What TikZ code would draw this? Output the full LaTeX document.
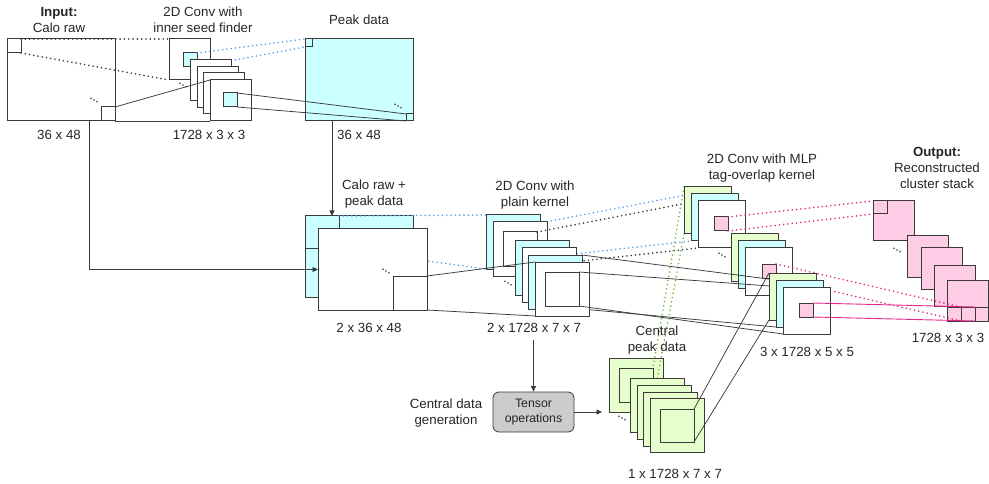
\documentclass[tikz,border=0pt]{standalone}
\usepackage{fontspec}
\setmainfont{Liberation Sans}
\usetikzlibrary{arrows.meta,calc}

\definecolor{edge}{HTML}{3A3A3A}
\definecolor{cyanF}{HTML}{CCFFFF}
\definecolor{greenF}{HTML}{E6FFCC}
\definecolor{pinkF}{HTML}{FFCCE6}
\definecolor{grayF}{HTML}{CCCCCC}
\definecolor{blueDot}{RGB}{90,160,240}
\definecolor{greenDot}{RGB}{115,180,60}
\definecolor{pinkLn}{RGB}{225,40,135}

% geometry of a box: name, left, top, width, height (y grows downwards)
\newcommand\bx[5]{\path (#2,#3) node[geom, minimum width=#4pt, minimum height=#5pt] (#1) {};}
% paint a box defined with \bx
\newcommand\paint[2]{\draw[#1] (#2.north west) rectangle (#2.south east);}
% three small dots marking an elided stack
\newcommand\tridots[2]{\foreach \k in {-1,0,1}{\fill[edge] ({#1+3.0*\k},{#2+1.8*\k}) circle (0.9pt);}}

\begin{document}
\begin{tikzpicture}[x=1pt,y=-1pt,
  geom/.style={rectangle, inner sep=0pt, outer sep=0pt, anchor=north west},
  sqw/.style={draw=edge, line width=1pt, fill=white},
  sqc/.style={draw=edge, line width=1pt, fill=cyanF},
  sqg/.style={draw=edge, line width=1pt, fill=greenF},
  sqp/.style={draw=edge, line width=1pt, fill=pinkF},
  ln/.style={draw=edge, line width=0.75pt},
  arr/.style={draw=edge, line width=0.75pt, -{Triangle[length=5.5pt,width=5pt]}},
  dotk/.style={draw=edge, line width=1.8pt, line cap=round, dash pattern=on 0.01pt off 4.3pt},
  dotb/.style={dotk, draw=blueDot},
  dotg/.style={dotk, draw=greenDot},
  dotp/.style={dotk, draw=pinkLn},
  lnp/.style={draw=pinkLn, line width=0.9pt},
  lbl/.style={align=center, inner sep=0pt, font=\fontsize{13.3}{16}\selectfont, text=black!85},
  tensorbox/.style={draw=edge, line width=0.8pt, fill=grayF, rounded corners=6pt,
    minimum width=81pt, minimum height=40pt, align=center, inner sep=0pt,
    font=\fontsize{12.3}{15.5}\selectfont, text=black!85}
]
\useasboundingbox (0,0) rectangle (989,484);

% ---------- geometry ----------
\bx{in}{7}{39}{108}{82}
\bx{inTL}{7}{39}{14}{14}
\bx{inBR}{101}{107}{14}{14}
\bx{ca}{169}{39}{41}{41}
\bx{cap}{183}{53}{14}{14}
\bx{cb}{190}{60}{41}{41}
\bx{cc}{197}{67}{41}{41}
\bx{cd}{203}{73}{41}{41}
\bx{ce}{210}{80}{41}{41}
\bx{cep}{223}{93}{14}{14}
\bx{pk}{305}{39}{108}{82}
\bx{pkTL}{305}{39}{7}{8}
\bx{pkBR}{406}{114}{7}{7}
\bx{bk}{305}{216}{108}{81}
\bx{bkTL}{305}{216}{34}{33}
\bx{fr}{318}{229}{109}{81}
\bx{frBR}{393}{276}{34}{34}
\bx{pa}{486}{215}{54}{54}
\bx{pap}{496}{225}{34}{34}
\bx{pb}{493}{222}{54}{54}
\bx{pbp}{503}{232}{34}{34}
\bx{pc}{515}{241}{54}{54}
\bx{pd}{522}{248}{54}{54}
\bx{pe}{528}{255}{54}{54}
\bx{pf}{535}{262}{54}{54}
\bx{pfp}{545}{272}{34}{34}
\bx{ga}{609}{358}{54}{54}
\bx{gap}{619}{368}{34}{34}
\bx{gb}{630}{378}{54}{54}
\bx{gc}{637}{385}{54}{54}
\bx{gd}{643}{392}{54}{54}
\bx{ge}{650}{398}{54}{54}
\bx{gep}{660}{409}{34}{33}
\bx{mAg}{684}{187}{47}{47}
\bx{mAc}{691}{194}{47}{47}
\bx{mAw}{698}{201}{47}{47}
\bx{mAp}{714}{217}{14}{14}
\bx{mBg}{731}{234}{47}{47}
\bx{mBc}{738}{241}{47}{47}
\bx{mBw}{745}{248}{47}{47}
\bx{mBp}{762}{264}{14}{14}
\bx{mCg}{769}{273}{47}{47}
\bx{mCc}{776}{280}{47}{47}
\bx{mCw}{783}{287}{47}{47}
\bx{mCp}{799}{303}{14}{14}
\bx{oa}{873}{201}{41}{40}
\bx{oap}{873}{201}{14}{13}
\bx{ob}{907}{236}{41}{41}
\bx{oc}{921}{248}{41}{41}
\bx{od}{934}{265}{41}{41}
\bx{oe}{947}{280}{41}{41}
\bx{oeA}{947}{307}{14}{14}
\bx{oeB}{961}{307}{14}{14}
\bx{oeC}{975}{307}{13}{14}

\coordinate (inTap) at (89,121);
\coordinate (pkTap) at (332,121);
\coordinate (plTap) at (533.5,340);
\coordinate (gIn) at (602,412);

% ---------- output stack ----------
\paint{sqp}{oa}\paint{sqp}{oap}
\paint{sqp}{ob}\paint{sqp}{oc}\paint{sqp}{od}\paint{sqp}{oe}
\paint{sqp}{oeA}\paint{sqp}{oeB}\paint{sqp}{oeC}
\tridots{897}{250}

% ---------- input and seed finder ----------
\paint{sqw}{in}\paint{sqw}{inTL}\paint{sqw}{inBR}
\tridots{94}{100}
\draw[dotk] (inTL.north east) -- (ca.north west);
\draw[dotk] (inTL.south east) -- (ca.south west);
\paint{sqw}{ca}\paint{sqc}{cap}
\draw[dotb] (cap.north east) -- (pkTL.north west);
\draw[dotb] (cap.south east) -- (pkTL.south west);
\paint{sqw}{cb}\paint{sqw}{cc}\paint{sqw}{cd}
\tridots{183}{85}
\draw[ln] (inBR.north east) -- (ce.north west);
\draw[ln] (inBR.south east) -- (ce.south west);
\paint{sqw}{ce}\paint{sqc}{cep}

% ---------- peak data ----------
\paint{sqc}{pk}\paint{sqc}{pkTL}\paint{sqc}{pkBR}
\tridots{398}{106}
\draw[ln] (cep.north east) -- (pkBR.north west);
\draw[ln] (cep.south east) -- (pkBR.south west);

% ---------- calo raw + peak data ----------
\paint{sqc}{bk}\paint{sqc}{bkTL}
\draw[dotb] (bkTL.north east) -- (pa.north west);
\draw[dotb] (bkTL.south east) -- (pa.south west);
\paint{sqw}{fr}\paint{sqw}{frBR}
\tridots{386}{271}
\draw[arr] (inTap) |- (fr.west);
\draw[arr] (pkTap) -- (pkTap |- bk.north);

% ---------- plain kernel convolution ----------
\paint{sqc}{pa}\paint{sqc}{pap}
\draw[dotb] (pap.north east) -- (mAc.north west);
\draw[dotb] (pap.south east) -- (mAc.south west);
\paint{sqw}{pb}\paint{sqw}{pbp}
\draw[dotk] (pbp.north east) -- (mAw.north west);
\draw[dotk] (pbp.south east) -- (mAw.south west);
\tridots{508}{283}
\paint{sqc}{pc}\paint{sqw}{pd}\paint{sqc}{pe}
\draw[ln] (pe.south east) -- (mCc.south west);
\draw[ln] (frBR.north east) -- (pf.north west);
\draw[ln] (frBR.south east) -- (pf.south west);
\paint{sqw}{pf}\paint{sqw}{pfp}
\draw[ln] (pfp.south east) -- (mCw.south west);

% ---------- central data generation ----------
\node[tensorbox] (tens) at (533.5,412) {Tensor\\operations};
\draw[arr] (plTap) -- (tens.north);
\draw[arr] (tens.east) -- (gIn);

\paint{sqg}{ga}\paint{sqg}{gap}
\draw[dotg] (mAg.north west) -- (gap.north east);
\draw[dotg] (mAg.south west) -- (gap.south east);
\paint{sqg}{gb}\paint{sqg}{gc}\paint{sqg}{gd}\paint{sqg}{ge}\paint{sqg}{gep}
\tridots{622}{418}

% ---------- MLP tag-overlap convolution ----------
\paint{sqg}{mAg}\paint{sqc}{mAc}\paint{sqw}{mAw}\paint{sqp}{mAp}
\tridots{722}{255}
\draw[dotp] (mAp.north east) -- (oap.north west);
\draw[dotp] (mAp.south east) -- (oap.south west);
\paint{sqg}{mBg}\paint{sqc}{mBc}\paint{sqw}{mBw}\paint{sqp}{mBp}
\draw[dotp] (mBp.north east) -- (oeB.north west);
\draw[dotp] (mBp.south east) -- (oeB.south west);
\draw[ln] (pe.north east) -- (mCc.north west);
\draw[ln] (pfp.north east) -- (mCw.north west);
\draw[ln] (gep.north east) -- (mCg.north west);
\draw[ln] (gep.south east) -- (mCg.south west);
\paint{sqg}{mCg}\paint{sqc}{mCc}\paint{sqw}{mCw}\paint{sqp}{mCp}
\draw[lnp] (mCp.north east) -- (oeC.north west);
\draw[lnp] (mCp.south east) -- (oeC.south west);

% ---------- labels ----------
\node[lbl] (lIn) at (59,20) {\textbf{Input:}\\Calo raw};
\node[lbl] (lConv) at (203,20) {2D Conv with\\inner seed finder};
\node[lbl] (lPeak) at (359,20) {Peak data};
\node[lbl] (dIn) at (59,135) {36 x 48};
\node[lbl] (dConv) at (209,135) {1728 x 3 x 3};
\node[lbl] (dPeak) at (359,135) {36 x 48};
\node[lbl] (lComb) at (374,194) {Calo raw +\\peak data};
\node[lbl] (dComb) at (369,328) {2 x 36 x 48};
\node[lbl] (lPlain) at (535,195) {2D Conv with\\plain kernel};
\node[lbl] (dPlain) at (534,328) {2 x 1728 x 7 x 7};
\node[lbl] (lCdg) at (446,413) {Central data\\generation};
\node[lbl] (lCent) at (657,340) {Central\\peak data};
\node[lbl] (dCent) at (675,474) {1 x 1728 x 7 x 7};
\node[lbl] (lMlp) at (762,168) {2D Conv with MLP\\tag-overlap kernel};
\node[lbl] (dMlp) at (807,352) {3 x 1728 x 5 x 5};
\node[lbl] (lOut) at (937,168) {\textbf{Output:}\\Reconstructed\\cluster stack};
\node[lbl] (dOut) at (948,338) {1728 x 3 x 3};
\end{tikzpicture}
\end{document}
